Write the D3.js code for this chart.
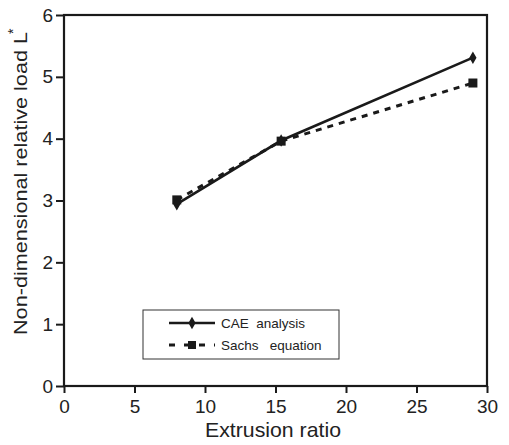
<!DOCTYPE html>
<html>
<head>
<meta charset="utf-8">
<script src="https://cdnjs.cloudflare.com/ajax/libs/d3/7.8.5/d3.min.js"></script>
<style>
  body { margin: 0; background: #fff; }
  text { font-family: "Liberation Sans", Arial, sans-serif; fill: #222; }
</style>
</head>
<body>
<div id="chart"></div>
<script>
// data
var ratios = [8, 15.4, 29];
var caeLoad = [2.94, 3.97, 5.31];
var sachsLoad = [3.01, 3.96, 4.9];
var seriesNames = ['CAE  analysis', 'Sachs   equation'];
var xTicks = [0, 5, 10, 15, 20, 25, 30];
var yTicks = [0, 1, 2, 3, 4, 5, 6];

var width = 509, height = 445;
var margin = { top: 15, right: 22, bottom: 59, left: 64 };

var svg = d3.select('#chart').append('svg')
  .attr('width', width)
  .attr('height', height);

var x = d3.scaleLinear().domain([0, 30]).range([margin.left, width - margin.right]);
var y = d3.scaleLinear().domain([0, 6]).range([height - margin.bottom, margin.top]);

var ink = '#1a1a1a';

// frame
svg.append('rect')
  .attr('x', x(0)).attr('y', y(6))
  .attr('width', x(30) - x(0)).attr('height', y(0) - y(6))
  .attr('fill', 'none').attr('stroke', ink).attr('stroke-width', 2.2);

var xAxis = svg.append('g')
  .attr('transform', 'translate(0,' + y(0) + ')')
  .call(d3.axisBottom(x).tickValues(xTicks).tickFormat(d3.format('d')).tickSize(7).tickPadding(7));
var yAxis = svg.append('g')
  .attr('transform', 'translate(' + x(0) + ',0)')
  .call(d3.axisLeft(y).tickValues(yTicks).tickFormat(d3.format('d')).tickSize(8).tickPadding(3));

[xAxis, yAxis].forEach(function(g) {
  g.select('.domain').remove();
  g.selectAll('line').attr('stroke', ink).attr('stroke-width', 2);
  g.selectAll('text').attr('font-size', 19).attr('fill', '#222')
    .style('font-family', '"Liberation Sans", Arial, sans-serif');
});
xAxis.selectAll('text').attr('dy', '0.71em');

// axis titles
svg.append('text')
  .attr('x', 273).attr('y', 437)
  .attr('text-anchor', 'middle').attr('font-size', 21)
  .attr('textLength', 136).attr('lengthAdjust', 'spacingAndGlyphs')
  .text('Extrusion ratio');

var yt = svg.append('g')
  .attr('transform', 'translate(27,335) rotate(-90)');
yt.append('text')
  .attr('x', 0).attr('y', 0).attr('font-size', 18)
  .attr('textLength', 303).attr('lengthAdjust', 'spacingAndGlyphs')
  .text('Non-dimensional relative load L');
yt.append('text')
  .attr('x', 301).attr('y', -9).attr('font-size', 14)
  .text('*');

var line = d3.line()
  .x(function(d) { return x(d[0]); })
  .y(function(d) { return y(d[1]); });

var cae = ratios.map(function(r, i) { return [r, caeLoad[i]]; });
var sachs = ratios.map(function(r, i) { return [r, sachsLoad[i]]; });

svg.append('path').datum(sachs)
  .attr('d', line).attr('fill', 'none')
  .attr('stroke', ink).attr('stroke-width', 3)
  .attr('stroke-dasharray', '6,6');

svg.append('path').datum(cae)
  .attr('d', line).attr('fill', 'none')
  .attr('stroke', ink).attr('stroke-width', 2.6);

var diamond = d3.symbol().type(d3.symbolDiamond).size(45);

svg.selectAll('.sq').data(sachs).enter().append('rect')
  .attr('x', function(d) { return x(d[0]) - 4.5; })
  .attr('y', function(d) { return y(d[1]) - 4.5; })
  .attr('width', 9).attr('height', 9).attr('fill', ink);

svg.selectAll('.dm').data(cae).enter().append('path')
  .attr('d', diamond)
  .attr('transform', function(d) { return 'translate(' + x(d[0]) + ',' + y(d[1]) + ')'; })
  .attr('fill', ink);

// legend
var lg = svg.append('g');
lg.append('rect')
  .attr('x', 143).attr('y', 310).attr('width', 196).attr('height', 49)
  .attr('fill', '#fff').attr('stroke', '#333').attr('stroke-width', 1);

lg.append('line').attr('x1', 169).attr('x2', 215).attr('y1', 323).attr('y2', 323)
  .attr('stroke', ink).attr('stroke-width', 2.6);
lg.append('path').attr('d', diamond).attr('transform', 'translate(192,323)').attr('fill', ink);
lg.append('line').attr('x1', 169).attr('x2', 215).attr('y1', 345).attr('y2', 345)
  .attr('stroke', ink).attr('stroke-width', 3).attr('stroke-dasharray', '6,9');
lg.append('rect').attr('x', 188).attr('y', 341).attr('width', 8).attr('height', 8).attr('fill', ink);

lg.selectAll('.lt').data(seriesNames).enter().append('text')
  .attr('x', 221)
  .attr('y', function(d, i) { return 328 + i * 22; })
  .attr('font-size', 13.5)
  .style('white-space', 'pre')
  .text(function(d) { return d; });
</script>
</body>
</html>
